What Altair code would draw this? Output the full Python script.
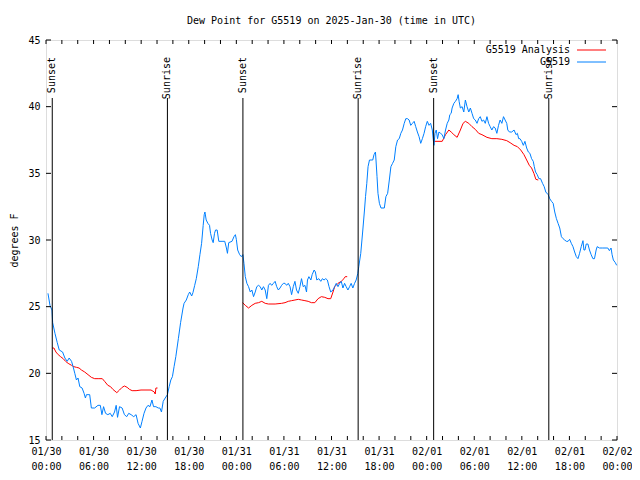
import altair as alt
import pandas as pd

FONT = "DejaVu Sans Mono"
BLUE = "#0080ff"
RED = "#ff0000"

# Hours since 2025-01-30 00:00 UTC and dew point (deg F) for station G5519
obs_hours = [0.25, 0.50, 0.75, 0.84, 1.13, 1.42, 1.67, 2.09, 2.38, 2.67, 2.92, 3.22, 3.42, 3.63, 3.84,
             4.04, 4.26, 4.55, 4.80, 4.97, 5.10, 5.51, 5.72, 6.14, 6.55, 6.85, 7.05, 7.26, 7.51, 7.80,
             8.10, 8.35, 8.64, 8.85, 9.02, 9.27, 9.60, 9.89, 10.18, 10.43, 10.73, 11.06, 11.36, 11.61,
             11.90, 12.11, 12.36, 12.61, 12.86, 13.11, 13.36, 13.56, 13.86, 14.15, 14.36, 14.56, 14.78,
             15.03, 15.31, 15.53, 15.74, 15.94, 16.15, 16.37, 16.69, 16.97, 17.28, 17.41, 17.69, 17.94,
             18.12, 18.37, 18.53, 18.75, 18.95, 19.20, 19.41, 19.62, 19.82, 19.95, 20.04, 20.20, 20.41,
             20.62, 20.75, 20.95, 21.08, 21.25, 21.38, 21.58, 21.79, 22.20, 22.54, 22.75, 22.88, 23.04,
             23.45, 23.70, 23.88, 24.00, 24.17, 24.42, 24.63, 24.83, 24.96, 25.13, 25.33, 25.54, 25.76,
             25.96, 26.17, 26.38, 26.58, 26.80, 27.01, 27.21, 27.42, 27.64, 27.84, 28.05, 28.26, 28.46,
             28.68, 28.89, 29.09, 29.30, 29.51, 29.71, 29.93, 30.14, 30.34, 30.55, 30.77, 30.97, 31.18,
             31.39, 31.59, 31.81, 32.02, 32.22, 32.43, 32.65, 32.85, 32.97, 33.15, 33.40, 33.56, 33.81,
             33.97, 34.15, 34.40, 34.65, 34.85, 35.06, 35.27, 35.48, 35.69, 35.90, 36.19, 36.40, 36.60,
             36.82, 37.03, 37.23, 37.44, 37.65, 37.85, 38.07, 38.28, 38.48, 38.69, 38.91, 39.11, 39.32,
             39.44, 39.69, 39.95, 40.16, 40.29, 40.45, 40.61, 40.79, 40.99, 41.20, 41.36, 41.54, 41.61,
             41.74, 41.86, 42.04, 42.24, 42.66, 42.86, 43.08, 43.29, 43.49, 43.70, 43.91, 44.11, 44.33,
             44.54, 44.74, 44.95, 45.17, 45.37, 45.58, 45.79, 45.99, 46.21, 46.42, 46.62, 46.83, 47.04,
             47.25, 47.46, 47.67, 47.87, 48.08, 48.30, 48.50, 48.71, 48.84, 48.92, 49.05, 49.21, 49.37,
             49.55, 49.75, 49.96, 50.17, 50.38, 50.59, 50.80, 50.92, 51.09, 51.21, 51.43, 51.63, 51.84,
             51.97, 52.09, 52.25, 52.47, 52.68, 52.88, 53.09, 53.31, 53.51, 53.72, 53.93, 54.13, 54.35,
             54.56, 54.76, 54.97, 55.18, 55.39, 55.60, 55.81, 56.01, 56.22, 56.44, 56.64, 56.85, 57.06,
             57.26, 57.48, 57.69, 57.89, 58.10, 58.23, 58.44, 58.73, 59.02, 59.27, 59.44, 59.60, 59.77,
             59.98, 60.19, 60.39, 60.61, 60.82, 61.02, 61.23, 61.44, 61.57, 61.73, 61.94, 62.15, 62.36,
             62.61, 62.82, 63.02, 63.32, 63.52, 63.74, 63.95, 64.15, 64.36, 64.57, 64.78, 64.99, 65.20,
             65.40, 65.62, 65.83, 66.03, 66.24, 66.45, 66.66, 66.87, 67.08, 67.28, 67.49, 67.71, 67.83,
             67.96, 68.12, 68.33, 68.53, 68.74, 68.96, 69.16, 69.37, 69.50, 69.79, 70.21, 70.62, 70.84,
             71.04, 71.25, 71.38, 71.54, 71.79, 71.96]
obs_dewpt = [26.0, 25.1, 24.75, 23.8, 23.0, 22.3, 21.75, 21.6, 21.15, 20.9, 21.15, 20.9, 20.5, 20.0, 19.5,
             19.65, 19.0, 18.9, 18.5, 18.15, 18.4, 18.4, 17.4, 17.4, 17.6, 17.6, 16.9, 17.5, 17.0, 16.9,
             17.0, 16.75, 17.1, 17.6, 16.7, 17.5, 17.4, 16.9, 16.75, 17.0, 16.9, 16.75, 16.9, 16.25,
             15.9, 16.4, 17.0, 17.4, 17.6, 17.5, 18.0, 17.5, 17.5, 17.4, 17.4, 17.1, 17.9,
             18.15, 18.4, 19.0, 19.5, 19.75, 20.5, 21.25, 22.6, 23.8, 24.9, 25.25, 25.5, 25.9,
             26.1, 25.8, 26.05, 26.6, 27.1, 28.0, 28.9, 29.75, 31.1, 31.9, 32.1, 31.5, 31.25,
             31.1, 30.5, 30.0, 29.8, 30.5, 30.75, 30.75, 29.9, 29.9, 29.9, 29.4, 29.0, 29.8,
             29.9, 30.25, 30.4, 30.05, 29.25, 28.9, 28.75, 28.9, 28.25, 27.25, 26.75, 26.5, 26.1,
             26.25, 25.75, 26.1, 26.5, 26.6, 26.5, 26.25, 26.5, 26.25, 25.6, 26.6, 26.75, 26.6,
             26.75, 26.9, 26.5, 26.25, 26.4, 26.6, 26.75, 26.75, 26.6, 26.75, 26.5, 25.9, 26.5,
             26.9, 26.25, 26.0, 26.5, 27.1, 26.5, 26.6, 26.1, 27.0, 27.25, 27.0, 27.4, 27.75,
             27.6, 27.0, 27.1, 26.9, 27.1, 27.0, 27.1, 27.0, 26.5, 26.1, 26.25, 26.5, 26.75,
             26.5, 26.75, 26.9, 26.4, 26.75, 26.5, 26.25, 26.5, 26.75, 26.4, 26.75, 27.0, 27.5,
             28.0, 29.0, 30.75, 32.25, 33.25, 34.25, 35.5, 36.0, 36.0, 36.0, 36.4, 36.6, 36.0,
             34.75, 33.5, 32.75, 32.4, 32.4, 33.25, 33.5, 34.5, 35.5, 35.75, 36.0, 37.0, 37.5,
             37.6, 38.0, 38.25, 38.75, 39.1, 39.1, 39.0, 38.6, 38.75, 38.9, 38.5, 38.1, 37.75,
             37.25, 37.6, 38.0, 38.5, 38.9, 38.6, 38.75, 38.25, 37.5, 37.1, 38.0, 38.25, 37.6,
             38.1, 38.0, 37.9, 37.6, 38.25, 38.75, 39.0, 39.4, 39.5, 39.9, 40.25, 40.4, 40.6,
             40.9, 40.4, 39.9, 40.0, 39.6, 40.5, 40.0, 39.6, 39.9, 39.5, 39.1, 39.0, 38.75,
             39.1, 39.25, 38.9, 39.0, 38.75, 39.25, 38.75, 38.5, 38.25, 38.5, 38.4, 38.0, 38.6,
             39.0, 38.75, 39.25, 39.0, 38.75, 38.25, 38.1, 38.1, 38.25, 37.9, 38.0, 37.6, 37.6,
             37.4, 37.1, 37.4, 36.9, 36.6, 36.5, 36.1, 35.9, 35.5, 35.1, 34.9, 34.6, 34.6,
             34.25, 34.0, 33.6, 33.4, 33.1, 32.9, 32.75, 32.1, 31.6, 31.25, 30.9, 30.25, 30.1,
             30.0, 29.9, 29.9, 30.05, 29.75, 29.5, 29.1, 28.75, 28.6, 29.0, 29.5, 29.95, 29.25,
             29.25, 29.7, 29.7, 29.25, 28.9, 28.6, 28.6, 29.25, 29.5, 29.4, 29.4, 29.4, 29.4,
             29.2, 29.4, 28.9, 28.5, 28.3, 28.1]

# G5519 Analysis, three night-time segments
ana1_hours = [0.79, 1.00, 1.25, 1.54, 1.84, 2.17, 2.47, 2.79, 3.22, 3.51, 3.84, 4.17, 4.47, 4.88, 5.30,
              5.72, 6.14, 6.67, 7.10, 7.39, 7.80, 8.14, 8.43, 8.93, 9.27, 9.60, 9.89, 10.23, 10.52,
              10.86, 11.36, 11.98, 12.61, 13.24, 13.65, 13.77, 13.86, 14.06]
ana1_dewpt = [21.9, 21.9, 21.6, 21.4, 21.25, 21.1, 20.9, 20.75, 20.6, 20.5, 20.45, 20.4, 20.25, 20.1, 19.9,
              19.7, 19.6, 19.6, 19.6, 19.4, 19.1, 19.0, 18.8, 18.55, 18.75, 18.95, 19.05, 18.95, 18.8,
              18.7, 18.7, 18.75, 18.75, 18.75, 18.6, 18.45, 18.9, 18.9]
ana2_hours = [24.79, 25.13, 25.54, 25.96, 26.38, 26.80, 27.21, 27.64, 28.05, 28.89, 29.71, 30.14, 30.55,
              30.97, 31.39, 31.81, 32.22, 32.65, 33.06, 33.47, 33.90, 34.31, 34.72, 35.15, 35.56, 35.90,
              36.19, 36.40, 36.82, 37.23, 37.57, 37.73, 37.98]
ana2_dewpt = [25.3, 25.1, 24.9, 25.1, 25.25, 25.3, 25.4, 25.25, 25.2, 25.2, 25.25, 25.3, 25.4,
              25.45, 25.5, 25.55, 25.5, 25.45, 25.4, 25.3, 25.3, 25.6, 25.75, 25.7, 25.6, 25.6,
              26.1, 26.5, 26.75, 26.9, 27.1, 27.25, 27.25]
ana3_hours = [48.92, 49.96, 50.38, 50.80, 51.09, 51.43, 51.84, 52.25, 52.59, 52.88, 53.31, 53.72, 54.13,
              54.56, 54.97, 55.60, 56.22, 56.85, 57.48, 58.10, 58.52, 59.02, 59.44, 59.86, 60.27, 60.61,
              60.94, 61.23, 61.52, 61.77, 62.07]
ana3_dewpt = [37.4, 37.4, 37.9, 38.25, 38.1, 37.9, 37.7, 38.25, 38.75, 38.9, 38.75, 38.5, 38.3,
              38.0, 37.9, 37.7, 37.6, 37.6, 37.55, 37.45, 37.3, 37.1, 37.0, 36.75, 36.4, 36.0,
              35.6, 35.4, 35.0, 34.55, 34.5]

sun_hours = [0.79, 15.31, 24.83, 39.36, 48.88, 63.40]
sun_labels = ["Sunset", "Sunrise", "Sunset", "Sunrise", "Sunset", "Sunrise"]

x_major = [0, 6, 12, 18, 24, 30, 36, 42, 48, 54, 60, 66, 72]
x_minor = list(range(0, 73, 2))
day_labels = ["01/30", "01/31", "02/01", "02/02"]
y_ticks = [15, 20, 25, 30, 35, 40, 45]

series_names = ["G5519 Analysis", "G5519"]

W, H = 571, 400

obs = pd.DataFrame({"h": obs_hours, "v": obs_dewpt})
ana = pd.concat([
    pd.DataFrame({"h": ana1_hours, "v": ana1_dewpt, "seg": 1}),
    pd.DataFrame({"h": ana2_hours, "v": ana2_dewpt, "seg": 2}),
    pd.DataFrame({"h": ana3_hours, "v": ana3_dewpt, "seg": 3}),
])
sun = pd.DataFrame({"h": sun_hours, "label": sun_labels})

label_expr = ("[" + str(day_labels) + "[floor(datum.value/24)], "
              "(datum.value%24<10?'0':'') + (datum.value%24) + ':00']")

xscale = alt.Scale(domain=[0, 72], nice=False, zero=False)
yscale = alt.Scale(domain=[15, 45], nice=False, zero=False)

xaxis = alt.Axis(values=x_major, labelExpr=label_expr, title=None, grid=False, domain=False,
                 ticks=False, tickSize=0, labelPadding=6, labelFlush=False, labelOverlap=False,
                 labelFont=FONT, labelFontSize=10, labelColor="black", labelLineHeight=15,
                 labelBaseline="top")
yaxis = alt.Axis(values=y_ticks, title="degrees F", grid=False, domain=False, ticks=False,
                 tickSize=0, labelPadding=6, labelFont=FONT, labelFontSize=10, labelColor="black",
                 titleFont=FONT, titleFontSize=10, titleFontWeight="normal", titleColor="black",
                 titleX=-32, titleY=200, titleAngle=270, titleBaseline="middle", titleAlign="center")

X = alt.X("h:Q", scale=xscale, axis=xaxis)
Y = alt.Y("v:Q", scale=yscale, axis=yaxis)

blue = alt.Chart(obs).mark_line(color=BLUE, strokeWidth=1).encode(x=X, y=Y)
red = alt.Chart(ana).mark_line(color=RED, strokeWidth=1).encode(x=X, y=Y, detail="seg:N")

sun_rules = alt.Chart(sun).mark_rule(color="black", strokeWidth=1).encode(
    x=X, y=alt.value(58), y2=alt.value(H))
sun_text = alt.Chart(sun).mark_text(angle=270, align="right", baseline="middle", font=FONT,
                                    fontSize=10, color="black").encode(
    x=X, y=alt.value(17), text="label:N")

xt = pd.DataFrame({"h": x_minor})
yt = pd.DataFrame({"v": y_ticks})
tick_top = alt.Chart(xt).mark_rule(color="black").encode(x=X, y=alt.value(0), y2=alt.value(4))
tick_bot = alt.Chart(xt).mark_rule(color="black").encode(x=X, y=alt.value(H - 4), y2=alt.value(H))
tick_left = alt.Chart(yt).mark_rule(color="black").encode(y=Y, x=alt.value(0), x2=alt.value(5))
tick_right = alt.Chart(yt).mark_rule(color="black").encode(y=Y, x=alt.value(W - 5), x2=alt.value(W))

leg = pd.DataFrame({"name": series_names})
LX = W - 47
leg_t1 = alt.Chart(leg).transform_filter(alt.datum.name == series_names[0]).mark_text(
    align="right", baseline="middle", font=FONT, fontSize=10, color="black").encode(
    x=alt.value(LX), y=alt.value(10), text="name:N")
leg_t2 = alt.Chart(leg).transform_filter(alt.datum.name == series_names[1]).mark_text(
    align="right", baseline="middle", font=FONT, fontSize=10, color="black").encode(
    x=alt.value(LX), y=alt.value(22), text="name:N")
leg_l1 = alt.Chart(leg).transform_filter(alt.datum.name == series_names[0]).mark_rule(
    color=RED, strokeWidth=1).encode(x=alt.value(LX + 7), x2=alt.value(LX + 36), y=alt.value(10))
leg_l2 = alt.Chart(leg).transform_filter(alt.datum.name == series_names[1]).mark_rule(
    color=BLUE, strokeWidth=1).encode(x=alt.value(LX + 7), x2=alt.value(LX + 36), y=alt.value(22))

chart = alt.layer(
    red, blue, sun_rules, sun_text, tick_top, tick_bot, tick_left, tick_right,
    leg_t1, leg_t2, leg_l1, leg_l2,
).properties(
    width=W, height=H,
    title=alt.TitleParams("Dew Point for G5519 on 2025-Jan-30 (time in UTC)", font=FONT,
                          fontSize=10, fontWeight="normal", color="black", anchor="middle",
                          offset=9),
    padding={"left": 38, "top": 32, "right": 15, "bottom": 32},
    autosize=alt.AutoSizeParams(type="none"),
).configure_view(stroke="black", strokeWidth=1).configure(background="white")

chart.save("out.html", embed_options={"renderer": "svg", "actions": False})
